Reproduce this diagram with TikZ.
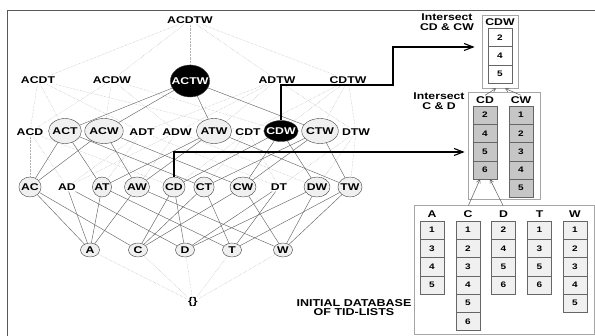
\documentclass[tikz,border=0pt]{standalone}
\usepackage{fontspec}
\newfontfamily\lblfont{Liberation Sans}[FakeStretch=1.25]
\usetikzlibrary{shapes.geometric, positioning, arrows.meta, backgrounds}
\newcommand\latfont{\lblfont\bfseries\fontsize{9.8}{10}\selectfont}
\newcommand\numfont{\lblfont\bfseries\fontsize{8}{9}\selectfont}
\tikzset{iset/.style={font=\latfont, inner sep=1pt},
  freq/.style={iset, ellipse, draw=black!75, fill=gray!12, inner xsep=-1pt, inner ysep=0pt},
  maxf/.style={freq, fill=black, text=white},
  lvthree/.style={minimum height=25pt},
  lvtwo/.style={minimum height=20pt},
  lvone/.style={minimum width=19pt, minimum height=14pt},
  sub/.style={draw=gray!80!black, line width=0.45pt},
  nosub/.style={draw=gray!60, densely dotted, line width=0.45pt},
  listbox/.style={draw=gray!70, line width=0.8pt, inner sep=0pt},
  tid/.style={draw=black!60, fill=gray!12, minimum width=24pt, minimum height=18.3pt, inner sep=0pt, font=\numfont},
  tidout/.style={tid, fill=white},
  tidsel/.style={tid, fill=gray!45},
  isect/.style={draw=black, line width=1.1pt, -{Straight Barb[length=9pt, width=7pt]}},
  feed/.style={draw=gray!70!black, line width=0.5pt, -{Straight Barb[length=3.5pt, width=4pt]}}}

\begin{document}
\begin{tikzpicture}[x=1pt, y=-1pt, node distance=18.3pt]
  \useasboundingbox (0,0) rectangle (595,336);
  % lattice of itemsets
  \node[iset] (ACDTW) at (190,20) {ACDTW};

  \node[iset] (ACDT) at (38,80) {ACDT};
  \node[iset] (ACDW) at (112,80) {ACDW};
  \node[maxf, minimum height=32pt, inner xsep=-4.5pt] (ACTW) at (190,81) {ACTW};
  \node[iset] (ADTW) at (277,80) {ADTW};
  \node[iset] (CDTW) at (348,80) {CDTW};

  \node[iset] (ACD) at (30,132) {ACD};
  \node[freq, lvthree] (ACT) at (65,131) {ACT};
  \node[freq, lvthree] (ACW) at (104,131) {ACW};
  \node[iset] (ADT) at (142,132) {ADT};
  \node[iset] (ADW) at (177,132) {ADW};
  \node[freq, lvthree] (ATW) at (214,131) {ATW};
  \node[iset] (CDT) at (248,132) {CDT};
  \node[maxf, minimum height=21pt, inner xsep=-2.5pt] (CDW) at (281,131) {CDW};
  \node[freq, lvthree] (CTW) at (320,131) {CTW};
  \node[iset] (DTW) at (356,132) {DTW};

  \node[freq, lvtwo] (AC) at (30,187) {AC};
  \node[iset] (AD) at (67,187) {AD};
  \node[freq, lvtwo] (AT) at (102,187) {AT};
  \node[freq, lvtwo] (AW) at (137,187) {AW};
  \node[freq, lvtwo] (CD) at (174,187) {CD};
  \node[freq, lvtwo] (CT) at (204,187) {CT};
  \node[freq, lvtwo] (CW) at (243,187) {CW};
  \node[iset] (DT) at (279,187) {DT};
  \node[freq, lvtwo] (DW) at (317,187) {DW};
  \node[freq, lvtwo] (TW) at (350,187) {TW};

  \node[freq, lvone] (A) at (90,250) {A};
  \node[freq, lvone] (C) at (138,250) {C};
  \node[freq, lvone] (D) at (185,250) {D};
  \node[freq, lvone] (T) at (232,250) {T};
  \node[freq, lvone] (W) at (283,250) {W};

  \node[iset] (empty) at (193,302) {\{\}};

  \begin{scope}[on background layer]
    \draw[gray!70!black, line width=0.9pt] (7,336) -- (7,10) -- (595,10);
    \draw[nosub] (ACDTW) edge (ACDT) edge (ACDW) edge (ACTW) edge (ADTW) edge (CDTW);
    \draw[nosub] (ACDT) edge (ACD) edge (ACT) edge (ADT) edge (CDT)
                 (ACDW) edge (ACD) edge (ACW) edge (ADW) edge (CDW)
                 (ADTW) edge (ADT) edge (ADW) edge (ATW) edge (DTW)
                 (CDTW) edge (CDT) edge (CDW) edge (CTW) edge (DTW);
    \draw[sub]   (ACTW) edge (ACT) edge (ACW) edge (ATW) edge (CTW);
    \draw[nosub] (ACD) edge (AC) edge (AD) edge (CD)
                 (ADT) edge (AD) edge (AT) edge (DT)
                 (ADW) edge (AD) edge (AW) edge (DW)
                 (CDT) edge (CD) edge (CT) edge (DT)
                 (DTW) edge (DT) edge (DW) edge (TW);
    \draw[sub]   (ACT) edge (AC) edge (AT) edge (CT)
                 (ACW) edge (AC) edge (AW) edge (CW)
                 (ATW) edge (AT) edge (AW) edge (TW)
                 (CDW) edge (CD) edge (CW) edge (DW)
                 (CTW) edge (CT) edge (CW) edge (TW);
    \draw[sub]   (AC) edge (A) edge (C)  (AD) edge (A) edge (D)
                 (AT) edge (A) edge (T)  (AW) edge (A) edge (W)
                 (CD) edge (C) edge (D)  (CT) edge (C) edge (T)
                 (CW) edge (C) edge (W)  (DT) edge (D) edge (T)
                 (DW) edge (D) edge (W)  (TW) edge (T) edge (W);
    \draw[nosub] (empty) edge (A) edge (C) edge (D) edge (T) edge (W);
  \end{scope}

  % tid-lists
  \node[listbox, minimum width=36pt, minimum height=73pt] (cdwbox) at (500,51.5) {};
  \node[iset] (hCDW) at (500,22) {CDW};
  \node[tidout] (CDW1) at (500,37.5) {2};
  \node[tidout, below of=CDW1] (CDW2) {4};
  \node[tidout, below of=CDW2] (CDW3) {5};

  \node[listbox, minimum width=72pt, minimum height=107pt] (cdcwbox) at (504,145.5) {};
  \node[iset] (hCD) at (485,100) {CD};
  \node[iset] (hCW) at (521,100) {CW};
  \node[tidsel] (CD1) at (485,115) {2};
  \node[tidsel, below of=CD1] (CD2) {4};
  \node[tidsel, below of=CD2] (CD3) {5};
  \node[tidsel, below of=CD3] (CD4) {6};
  \node[tidsel] (CW1) at (521,115) {1};
  \node[tidsel, below of=CW1] (CW2) {2};
  \node[tidsel, below of=CW2] (CW3) {3};
  \node[tidsel, below of=CW3] (CW4) {4};
  \node[tidsel, below of=CW4] (CW5) {5};

  \node[listbox, minimum width=180pt, minimum height=129pt] (dbbox) at (504,269.5) {};
  \node[iset] (hA) at (432,214) {A};
  \node[iset] (hC) at (468,214) {C};
  \node[iset] (hD) at (503.5,214) {D};
  \node[iset] (hT) at (539.5,214) {T};
  \node[iset] (hW) at (575,214) {W};
  \node[tid] (A1) at (432,230) {1};
  \node[tid, below of=A1] (A2) {3};
  \node[tid, below of=A2] (A3) {4};
  \node[tid, below of=A3] (A4) {5};
  \node[tid] (C1) at (468,230) {1};
  \node[tid, below of=C1] (C2) {2};
  \node[tid, below of=C2] (C3) {3};
  \node[tid, below of=C3] (C4) {4};
  \node[tid, below of=C4] (C5) {5};
  \node[tid, below of=C5] (C6) {6};
  \node[tid] (D1) at (503.5,230) {2};
  \node[tid, below of=D1] (D2) {4};
  \node[tid, below of=D2] (D3) {5};
  \node[tid, below of=D3] (D4) {6};
  \node[tid] (T1) at (539.5,230) {1};
  \node[tid, below of=T1] (T2) {3};
  \node[tid, below of=T2] (T3) {5};
  \node[tid, below of=T3] (T4) {6};
  \node[tid] (W1) at (575,230) {1};
  \node[tid, below of=W1] (W2) {2};
  \node[tid, below of=W2] (W3) {3};
  \node[tid, below of=W3] (W4) {4};
  \node[tid, below of=W4] (W5) {5};

  \node[iset, align=center, font=\lblfont\bfseries\fontsize{10}{9.5}\selectfont] (dblabel) at (354,307.5) {INITIAL DATABASE\\OF TID-LISTS};
  \node[iset, align=center] (isectcw) at (447,22) {Intersect\\CD \& CW};
  \node[iset, align=center] (isectcd) at (439,101) {Intersect\\C \& D};

  % intersections
  \draw[feed, shorten <=1pt] ([yshift=3pt]hC.north) -- ([xshift=-5pt]CD4.south);
  \draw[feed, shorten <=1pt] ([yshift=3pt]hD.north) -- ([xshift=5pt]CD4.south);
  \draw[feed] (hCD.north) -- ([xshift=-4pt]cdwbox.south);
  \draw[feed] (hCW.north) -- ([xshift=5pt]cdwbox.south);
  \draw[isect, shorten >=7pt] (CDW.north) |- (393,85) |- ([yshift=4.5pt]cdwbox.west);
  \draw[isect, shorten >=3pt] (CD.north) |- ([yshift=-6.5pt]cdcwbox.west);
\end{tikzpicture}
\end{document}
